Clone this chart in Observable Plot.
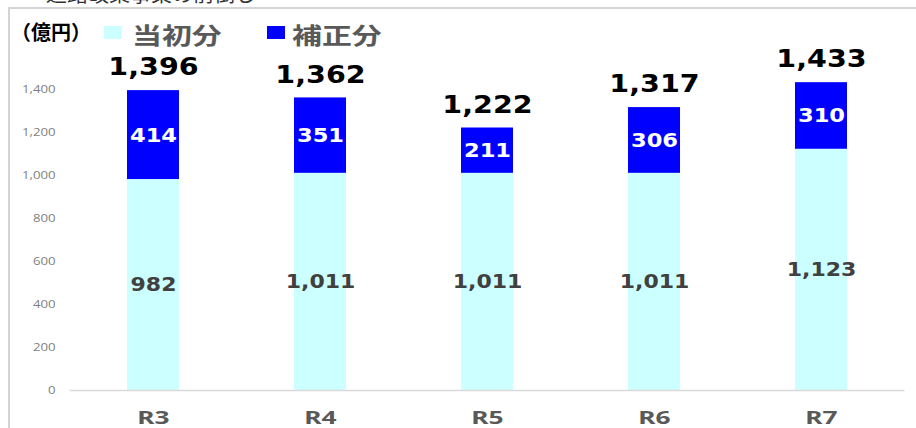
<!DOCTYPE html>
<html>
<head>
<meta charset="utf-8">
<script src="https://cdn.jsdelivr.net/npm/d3@7"></script>
<script src="https://cdn.jsdelivr.net/npm/@observablehq/plot@0.6"></script>
<style>
  html, body { margin: 0; padding: 0; background: #fff; }
  #wrap { position: relative; width: 916px; height: 428px; overflow: hidden; }
  #frame { position: absolute; left: 8px; top: 7px; width: 920px; height: 430px;
           border-left: 2px solid #d4d4d4; border-top: 2px solid #d4d4d4; box-sizing: border-box; }
  #cut { position: absolute; left: 46px; top: -16px; font: 20px/20px "Noto Sans CJK JP"; color: #333; white-space: nowrap;
         transform: scaleX(1.05); transform-origin: left center; }
  #legend { position: absolute; left: 0; top: 0; font-family: "Noto Sans CJK JP"; font-weight: bold; }
  .unit { position: absolute; left: 11px; top: 18px; font-size: 20px; line-height: 28px; color: #000; white-space: nowrap; }
  .sw { position: absolute; top: 26px; width: 18px; height: 13px; }
  .lab { position: absolute; top: 18px; font-size: 23px; line-height: 32px; color: #595959; white-space: nowrap;
         transform: scaleX(1.3); transform-origin: left center; }
  svg { position: absolute; left: 0; top: 0; }
</style>
</head>
<body>
<div id="wrap">
  <div id="cut">道路改築事業の前倒し</div>
  <div id="frame"></div>
  <div id="chart"></div>
  <div id="legend"></div>
</div>
<script>
const categories = ["R3", "R4", "R5", "R6", "R7"];
const seriesNames = ["当初分", "補正分"];
const initialValues = [982, 1011, 1011, 1011, 1123];
const supplementaryValues = [414, 351, 211, 306, 310];
const totals = [1396, 1362, 1222, 1317, 1433];
const yTicks = [0, 200, 400, 600, 800, 1000, 1200, 1400];
const seriesColors = ["#CCFFFF", "#0000FF"];
const unitLabel = "（億円）";

const rows = [];
categories.forEach((c, i) => {
  rows.push({cat: c, series: seriesNames[0], value: initialValues[i], base: 0});
  rows.push({cat: c, series: seriesNames[1], value: supplementaryValues[i], base: initialValues[i]});
});
const totalRows = categories.map((c, i) => ({cat: c, total: totals[i]}));
const fmt = d3.format(",");
const numFont = "DejaVu Sans";

const chart = Plot.plot({
  width: 916,
  height: 428,
  marginLeft: 69.5,
  marginRight: 11.5,
  marginTop: 46.3,
  marginBottom: 38,
  style: {background: "transparent", overflow: "visible"},
  x: {domain: categories, paddingInner: 0.69, paddingOuter: 0.345, label: null},
  y: {domain: [0, 1600], label: null},
  color: {domain: seriesNames, range: seriesColors},
  marks: [
    Plot.barY(rows, Plot.stackY({x: "cat", y: "value", fill: "series", z: "series"})),
    Plot.ruleY([0], {stroke: "#d9d9d9", strokeWidth: 1.5}),
    Plot.axisY({ticks: yTicks, tickSize: 0, tickPadding: 14.5, tickFormat: fmt,
      fontSize: 11, fill: "#7f7f7f", fontFamily: "Open Sans", label: null}),
    Plot.axisX({tickSize: 0, tickPadding: 21, fontSize: 17, fontWeight: "bold",
      fill: "#595959", fontFamily: "Noto Sans", label: null}),
    Plot.text(rows.filter(d => d.series === seriesNames[0]), {
      x: "cat", y: d => d.base + d.value / 2, text: d => fmt(d.value),
      fill: "#404040", fontSize: 20, fontWeight: "bold", fontFamily: numFont,
      lineAnchor: "middle"}),
    Plot.text(rows.filter(d => d.series === seriesNames[1]), {
      x: "cat", y: d => d.base + d.value / 2, text: d => fmt(d.value),
      fill: "#ffffff", fontSize: 20, fontWeight: "bold", fontFamily: numFont,
      lineAnchor: "middle"}),
    Plot.text(totalRows, {
      x: "cat", y: "total", text: d => fmt(d.total), dy: -23.5,
      fill: "#000000", fontSize: 25.5, fontWeight: "bold", fontFamily: numFont,
      lineAnchor: "middle"})
  ]
});

// horizontal stretch of text glyphs (the reference renders text wide);
// only the x offset is folded into the transform, vertical attributes are kept.
function stretchText(t, s) {
  const xa = t.getAttribute("x");
  let x = 0;
  if (xa !== null && /^-?[\d.]+$/.test(xa.trim())) { x = +xa; t.removeAttribute("x"); }
  const tr = t.getAttribute("transform") || "";
  t.setAttribute("transform", `${tr} translate(${x},0) scale(${s},1)`);
}
const textGroups = chart.querySelectorAll('g[aria-label="text"]');
const groupScales = [1.1, 1.13, 1.12];
textGroups.forEach((g, i) => g.querySelectorAll("text").forEach(t => stretchText(t, groupScales[i] || 1.1)));
const yl = chart.querySelector('g[aria-label="y-axis tick label"]');
if (yl) yl.querySelectorAll("text").forEach(t => stretchText(t, 1.2));
const xl = chart.querySelector('g[aria-label="x-axis tick label"]');
if (xl) xl.querySelectorAll("text").forEach(t => stretchText(t, 1.55));

document.getElementById("chart").appendChild(chart);

const legend = document.getElementById("legend");
legend.innerHTML =
  `<div class="unit">${unitLabel}</div>` +
  `<div class="sw" style="left:104px;background:${seriesColors[0]}"></div>` +
  `<div class="lab" style="left:132px">${seriesNames[0]}</div>` +
  `<div class="sw" style="left:267px;background:${seriesColors[1]}"></div>` +
  `<div class="lab" style="left:292px">${seriesNames[1]}</div>`;
</script>
</body>
</html>
